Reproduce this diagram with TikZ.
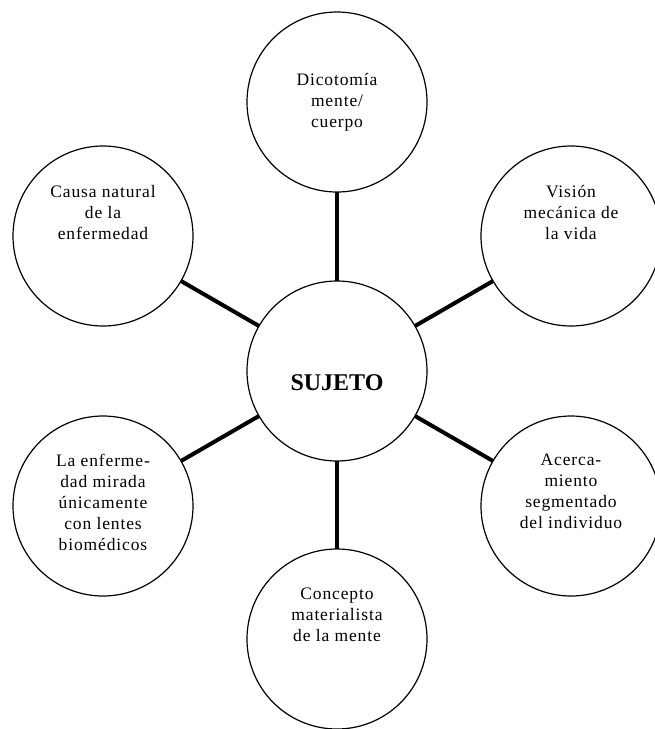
\documentclass[tikz,border=0pt]{standalone}
\usepackage{fontspec}
\usepackage{tikz}
\usetikzlibrary{positioning, calc}
\setmainfont{Liberation Serif}
\newfontfamily\spacedfont{Liberation Serif}[LetterSpace=5]

\tikzset{
    bubble/.style={circle, draw, line width=1.2pt, minimum size=180pt, inner sep=0pt, outer sep=0pt},
    bubbletext/.style={anchor=base, inner sep=0pt, font=\spacedfont\fontsize{17.5}{21.2}\selectfont},
    titletext/.style={anchor=base, inner sep=0pt, font=\bfseries\fontsize{24}{28}\selectfont},
    spoke/.style={line width=4pt}
}
\newcommand{\bubblelines}[1]{\parbox[t]{160pt}{\centering #1}}

\begin{document}
\begin{tikzpicture}[x=1pt, y=-1pt]
    \useasboundingbox [fill=white] (0,0) rectangle (654,729);

    % Centre and the six surrounding circles
    \node [bubble] (sujeto) at (337, 371) {};
    \node [bubble] (dicotomia) at (337, 102) {};
    \node [bubble] (vision) at (571, 236) {};
    \node [bubble] (acercamiento) at (571, 506) {};
    \node [bubble] (concepto) at (337, 639) {};
    \node [bubble] (enfermedad) at (103, 506) {};
    \node [bubble] (causa) at (103, 236) {};

    % Spokes
    \draw [spoke] (sujeto) -- (dicotomia);
    \draw [spoke] (sujeto) -- (vision);
    \draw [spoke] (sujeto) -- (acercamiento);
    \draw [spoke] (sujeto) -- (concepto);
    \draw [spoke] (sujeto) -- (enfermedad);
    \draw [spoke] (sujeto) -- (causa);

    % Texts
    \node [titletext] (sujeto text) at ([yshift=-19pt]sujeto.center) {SUJETO};
    \node [bubbletext] (dicotomia text) at ([yshift=17pt]dicotomia.center) {\bubblelines{Dicotomía\\mente/\\cuerpo}};
    \node [bubbletext] (vision text) at ([yshift=39pt]vision.center) {\bubblelines{Visión\\mecánica de\\la vida}};
    \node [bubbletext] (acercamiento text) at ([yshift=41pt]acercamiento.center) {\bubblelines{Acerca-\\miento\\segmentado\\del individuo}};
    \node [bubbletext] (concepto text) at ([yshift=40pt]concepto.center) {\bubblelines{Concepto\\materialista\\de la mente}};
    \node [bubbletext] (enfermedad text) at ([yshift=40pt]enfermedad.center) {\bubblelines{La enferme-\\dad mirada\\únicamente\\con lentes\\biomédicos}};
    \node [bubbletext] (causa text) at ([yshift=39pt]causa.center) {\bubblelines{Causa natural\\de la\\enfermedad}};
\end{tikzpicture}
\end{document}
